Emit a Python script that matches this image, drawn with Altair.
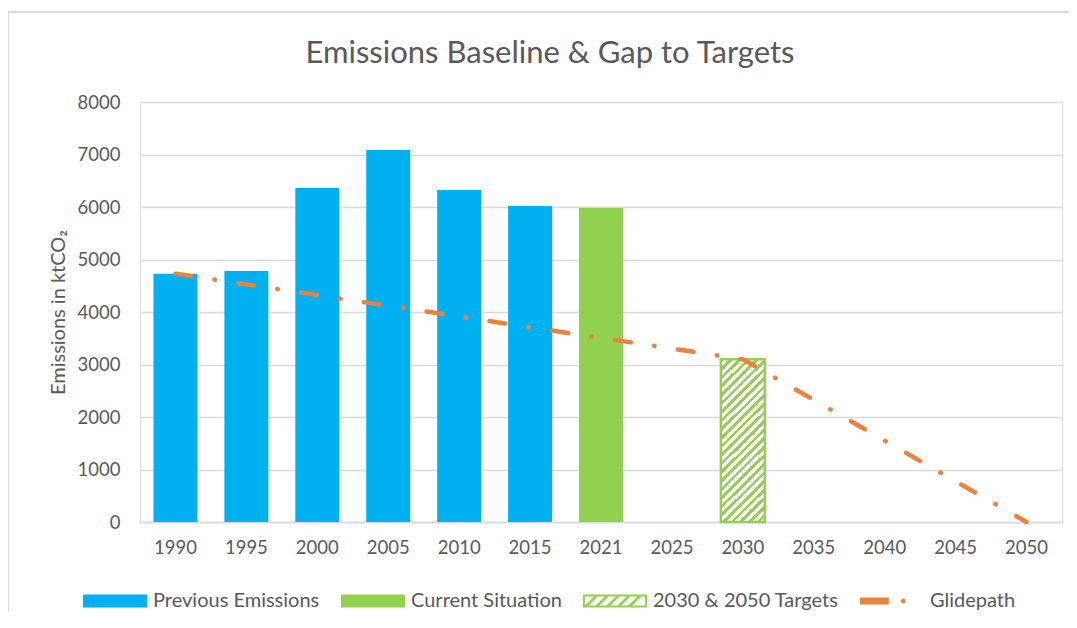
import altair as alt
import pandas as pd

# ---------------- data ----------------
title_text = "Emissions Baseline & Gap to Targets"

years = ["1990", "1995", "2000", "2005", "2010", "2015", "2021",
         "2025", "2030", "2035", "2040", "2045", "2050"]

previous_years = ["1990", "1995", "2000", "2005", "2010", "2015"]
previous_values = [4730, 4780, 6360, 7085, 6325, 6020]

current_years = ["2021"]
current_values = [5980]

target_years = ["2030"]
target_values = [3100]

glidepath_values = [4730, 4526, 4322, 4118, 3915, 3711, 3507, 3303, 3100,
                    2325, 1550, 775, 0]

series_names = ["Previous Emissions", "Current Situation",
                "2030 & 2050 Targets", "Glidepath"]
series_colors = ["#00B0F0", "#92D050", "#92D050", "#E8823C"]

BLUE = "#00B0F0"
GREEN = "#92D050"
ORANGE = "#E8823C"
GREY_TEXT = "#595959"
GRID = "#D9D9D9"
FONT = "Lato"

prev_df = pd.DataFrame({"year": previous_years, "value": previous_values})
curr_df = pd.DataFrame({"year": current_years, "value": current_values})
target_df = pd.DataFrame({"year": target_years, "value": target_values})
glide_df = pd.DataFrame({"year": years, "value": glidepath_values})
legend_df = pd.DataFrame({"series": series_names, "year": [years[-1]] * 4, "value": [0] * 4})


def hatch(n, x2, y2, frac=0.4):
    stops = []
    for i in range(n):
        a = i / n
        b = (i + frac) / n
        c = (i + 1) / n
        stops += [{"offset": a, "color": GREEN}, {"offset": b, "color": GREEN},
                  {"offset": b, "color": "white"}, {"offset": c, "color": "white"}]
    return {"gradient": "linear", "x1": 0, "y1": 0, "x2": x2, "y2": y2, "stops": stops}


bar_hatch = hatch(24, 0.317, 1.183, 0.42)

# legend symbol shapes (unit box -1..1, scaled by symbol size)
rect_path = "M-1,-0.2H1V0.2H-1Z"
hatch_path = "M-1,-0.2H1V0.2H-1Z M-0.94,-0.14V0.14H0.94V-0.14Z"
for x0 in [-0.94, -0.6, -0.26, 0.08, 0.42]:
    hatch_path += (f" M{x0:.2f},0.14L{x0 + 0.28:.2f},-0.14L{x0 + 0.4:.2f},-0.14"
                   f"L{x0 + 0.12:.2f},0.14Z")
glide_path = ("M-1,-0.11H-0.1V0.11H-1Z "
              "M0.28,0 a0.075,0.075 0 1,0 0.15,0 a0.075,0.075 0 1,0 -0.15,0Z")
series_shapes = [rect_path, rect_path, hatch_path, glide_path]

x_enc = alt.X("year:N", sort=years,
              scale=alt.Scale(domain=years, paddingInner=0.38, paddingOuter=0.19),
              axis=alt.Axis(title=None, labelAngle=0, ticks=False, labelPadding=16,
                            labelFontSize=18.5, labelFont=FONT, labelColor=GREY_TEXT,
                            domainColor=GRID, domainWidth=1.3, grid=False))
y_scale = alt.Scale(domain=[0, 8000], nice=False)
x_plain = alt.X("year:N", sort=years)

frame = alt.Chart(pd.DataFrame({"k": [0]})).mark_rect(
    fill="transparent", stroke=GRID, strokeWidth=2, clip=False
).encode(x=alt.value(-132), x2=alt.value(960), y=alt.value(-90), y2=alt.value(560))

title = alt.Chart(pd.DataFrame({"t": [title_text]})).mark_text(
    font=FONT, fontSize=31, color=GREY_TEXT, align="center", baseline="alphabetic"
).encode(text="t:N", x=alt.value(410), y=alt.value(-39))

prev_bars = alt.Chart(prev_df).mark_bar(color=BLUE).encode(
    x=x_enc,
    y=alt.Y("value:Q", scale=y_scale,
            axis=alt.Axis(title="Emissions in ktCO₂", values=list(range(0, 8001, 1000)),
                          format="d", ticks=False, domain=False, grid=True,
                          gridColor=GRID, gridWidth=1.3, labelPadding=20,
                          labelFontSize=18.5, labelFont=FONT, labelColor=GREY_TEXT,
                          titleFont=FONT, titleFontSize=20, titleFontWeight="normal",
                          titleColor=GREY_TEXT, titlePadding=9)),
)

curr_bars = alt.Chart(curr_df).mark_bar(color=GREEN).encode(
    x=x_plain, y=alt.Y("value:Q", scale=y_scale))

targets = alt.Chart(target_df).mark_bar(
    fill=bar_hatch, stroke=GREEN, strokeWidth=2.5
).encode(x=x_plain, y=alt.Y("value:Q", scale=y_scale))

glide = alt.Chart(glide_df).mark_line(
    color=ORANGE, strokeWidth=4.5, strokeDash=[16, 23.5, 0.5, 23.5], strokeCap="round"
).encode(x=x_plain, y=alt.Y("value:Q", scale=y_scale))

legend_def = alt.Legend(
    title=None, orient="none", legendX=-57, legendY=467,
    direction="horizontal", symbolSize=4096, symbolStrokeWidth=0, symbolOpacity=1,
    labelFont=FONT, labelFontSize=20, labelColor=GREY_TEXT, labelOffset=6,
    labelLimit=400, columnPadding=21, padding=0)

legend_layer = alt.Chart(legend_df).mark_point(filled=True, opacity=0, size=4096).encode(
    x=x_plain,
    y=alt.Y("value:Q", scale=y_scale),
    color=alt.Color("series:N", scale=alt.Scale(domain=series_names, range=series_colors),
                    legend=legend_def),
    shape=alt.Shape("series:N", scale=alt.Scale(domain=series_names, range=series_shapes),
                    legend=legend_def),
)

chart = alt.layer(frame, title, prev_bars, curr_bars, targets, glide, legend_layer).properties(
    width=922, height=420,
    autosize=alt.AutoSizeParams(type="none"),
    padding={"left": 132, "top": 94, "right": 7, "bottom": 90},
).configure_view(stroke=None).configure(background="white")

chart.save("out.html", embed_options={"renderer": "svg", "actions": False})
